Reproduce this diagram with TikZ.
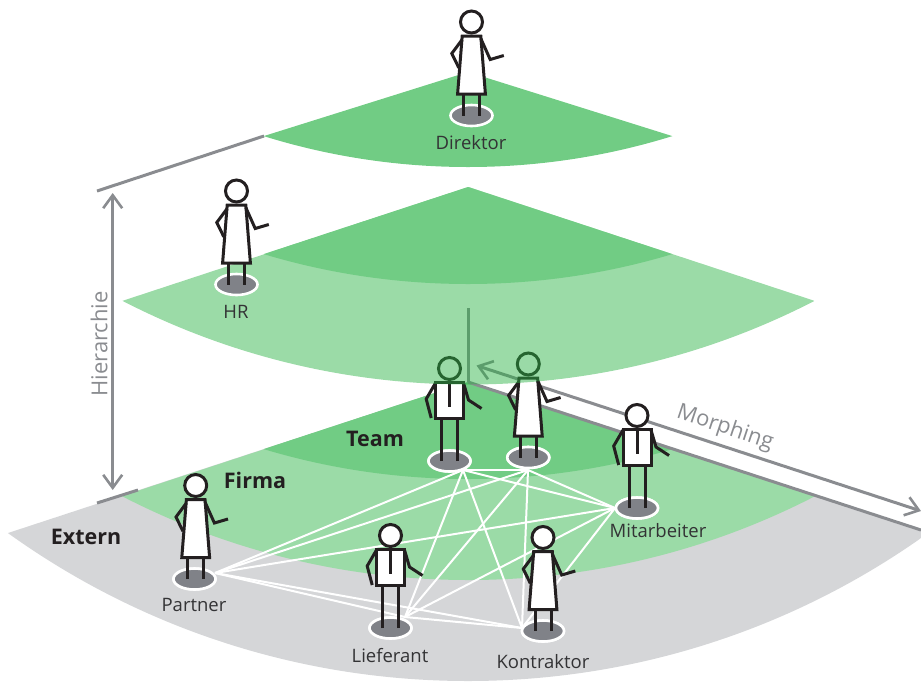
\documentclass[tikz,border=0pt]{standalone}
\usepackage{fontspec}
\setmainfont{Open Sans}
\usetikzlibrary{arrows.meta,shapes.geometric,calc}
\definecolor{gA}{HTML}{71CC84}
\definecolor{gB}{HTML}{9BDBA7}
\definecolor{gO}{HTML}{2AB244}
\definecolor{gC}{HTML}{D5D6D8}
\definecolor{gL}{HTML}{8A8C90}
\definecolor{gF}{HTML}{808288}
\definecolor{ink}{HTML}{231F20}
\definecolor{txt}{HTML}{333335}
\tikzset{x=1pt,y=-1pt,
 guide/.style={draw=gL,line width=3pt},
 gtip/.style={arrows={Straight Barb[length=13pt,width=19pt,line width=2.6pt]-Straight Barb[length=13pt,width=19pt,line width=2.6pt]}},
 lab/.style={font=\fontsize{18.5}{20}\selectfont,text=txt,inner sep=0pt},
 bold/.style={font=\fontsize{21.5}{23}\selectfont\bfseries,text=ink,inner sep=0pt},
 axis/.style={font=\fontsize{22}{24}\selectfont,text=gL,inner sep=0pt},
 net/.style={draw=white,line width=2pt},
 pad/.style={ellipse,draw=white,fill=gF,line width=2.6pt,minimum width=42pt,minimum height=21pt,inner sep=0pt},
 fig/.style={draw=ink,line width=3pt,line join=miter},
}
% colour, opacity, apex x, apex y, tip half-width, tip y, bottom y, radius
\newcommand{\sectorfill}[8]{\begin{scope}
 \clip (#3,#7-#8) circle (#8);
 \fill[#1,opacity=#2] (#3,#4) -- ($(#3,#4)!2!(#3-#5,#6)$) -- (#3-#5*2,#7+5) -- (#3+#5*2,#7+5) -- ($(#3,#4)!2!(#3+#5,#6)$) -- cycle;
\end{scope}}
\newcommand{\dressfig}[2]{\begin{scope}[shift={(#1,#2)}]
 \draw[fig] (-8,0)--(-8,-22) (8,0)--(8,-22);
 \draw[fig,fill=white] (-9.3,-79.5)--(9.3,-79.5)--(13.9,-21.5)--(-13.9,-21.5)--cycle;
 \draw[fig] (-9.3,-76)--(-19.7,-62)--(-12.7,-47.7);
 \draw[fig] (9.3,-77)--(18.7,-56)--(32.3,-60);
 \draw[fig,fill=white] (0,-93.5) circle (11);
\end{scope}}
\newcommand{\suitfig}[2]{\begin{scope}[shift={(#1,#2)}]
 \draw[fig] (-8,0)--(-8,-43) (8,0)--(8,-43);
 \draw[fig,fill=white] (-14,-79)--(14,-79)--(14,-42.5)--(-14,-42.5)--cycle;
 \draw[fig] (0,-79)--(0,-54);
 \draw[fig] (-14,-78)--(-23.3,-62)--(-18.3,-43);
 \draw[fig] (14,-78)--(19,-61)--(32,-52.5);
 \draw[fig,fill=white] (0,-92.5) circle (11);
\end{scope}}
\begin{document}
\begin{tikzpicture}
\useasboundingbox (0,0) rectangle (921,681);
% lower stack
\begin{scope}\clip (0,0) rectangle (921,681);
\sectorfill{gC}{1}{468}{382}{460}{533}{681}{789}
\end{scope}
\sectorfill{gB}{1}{468.5}{382}{346.5}{496}{580}{756.7}
\sectorfill{gA}{1}{468}{382}{204}{449}{479}{708.6}
% guides
\coordinate (ha) at (97,191); \coordinate (hb) at (264,136);
\coordinate (la) at (97,503); \coordinate (lb) at (138,490);
\coordinate (va) at (112.7,193); \coordinate (vb) at (112.7,490);
\coordinate (mo) at (468,382); \coordinate (me) at (921,530);
\coordinate (vt) at (468,308);
\coordinate (ma) at (476.5,365.5); \coordinate (mf) at (921,511);
\draw[guide] (ha)--(hb);
\draw[guide] (la)--(lb);
\draw[guide,gtip] (va)--(vb);
\draw[guide] (mo)--(me);
\draw[guide] (vt)--(mo);
\draw[guide,gtip] (ma)--(mf);
% network
\node[pad] (pT) at (449.5,461) {};
\node[pad] (pU) at (528.3,457.5) {};
\node[pad] (pM) at (637,508) {};
\node[pad] (pP) at (194.5,579) {};
\node[pad] (pL) at (390.5,628) {};
\node[pad] (pK) at (543,631) {};
\coordinate (cT) at (463,470);
\coordinate (cU) at (528,470);
\coordinate (cM) at (615,508);
\coordinate (cP) at (215,573);
\coordinate (cL) at (405,617);
\coordinate (cK) at (522,628);
\foreach \a/\b in {cT/cU,cT/cM,cT/cP,cT/cL,cT/cK,cU/cM,cU/cP,cU/cL,cU/cK,cM/cP,cM/cL,cM/cK,cP/cL,cP/cK,cL/cK}
 \draw[net] (\a)--(\b);
\foreach \p in {pT,pU,pM,pP,pL,pK} \node[pad] at (\p) {};
% figures under the translucent layer
\suitfig{449.5}{461}
\dressfig{528.3}{457.5}
% upper stack
\sectorfill{gO}{0.47}{468.5}{187}{346.5}{301}{384.5}{756}
\sectorfill{gA}{1}{468}{187}{204}{254}{284}{708.6}
\sectorfill{gA}{1}{468}{72}{204}{136}{167}{686.7}
% remaining figures
\node[pad] (pD) at (471.5,115.5) {};
\node[pad] (pH) at (236.5,284.5) {};
\dressfig{471.5}{115.5}
\dressfig{236.5}{284.5}
\suitfig{637}{508}
\dressfig{195.7}{579}
\suitfig{390.5}{628}
\dressfig{543}{631}
% labels
\node[lab] (tD) at (471,143) {Direktor};
\node[lab] (tH) at (236,312) {HR};
\node[lab] (tM) at (658,531) {Mitarbeiter};
\node[lab] (tP) at (194,605) {Partner};
\node[lab] (tL) at (390,656) {Lieferant};
\node[lab] (tK) at (543,662) {Kontraktor};
\node[bold] (tT) at (375,439) {Team};
\node[bold] (tF) at (255,480) {Firma};
\node[bold] (tE) at (86,537) {Extern};
\node[axis,rotate=90] (tHi) at (99,344) {Hierarchie};
\node[axis,rotate=-18.5] (tMo) at (725,428) {Morphing};
\end{tikzpicture}
\end{document}
